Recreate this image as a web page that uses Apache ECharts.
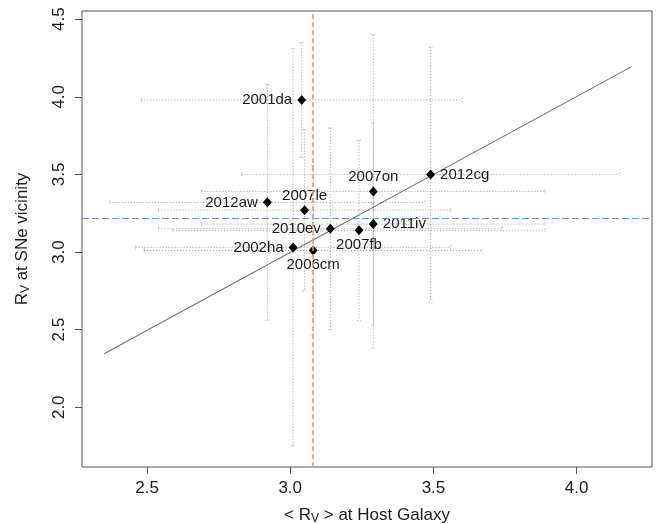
<!DOCTYPE html>
<html>
<head>
<meta charset="utf-8">
<script src="https://cdn.jsdelivr.net/npm/echarts@6/dist/echarts.min.js"></script>
<style>
  html, body { margin: 0; padding: 0; background: #fff; }
  #chart { width: 664px; height: 524px; }
</style>
</head>
<body>
<div id="chart"></div>
<script>
// Supernovae: R_V at the SN site vs mean R_V of the host galaxy
const names   = ['2001da', '2012cg', '2007on', '2012aw', '2007le', '2011iv', '2010ev', '2007fb', '2002ha', '2006cm'];
const hostRv  = [3.04, 3.49, 3.29, 2.92, 3.05, 3.29, 3.14, 3.24, 3.01, 3.08];
const snRv    = [3.98, 3.50, 3.39, 3.32, 3.27, 3.18, 3.15, 3.14, 3.03, 3.01];
const hostErr = [0.56, 0.66, 0.60, 0.55, 0.51, 0.60, 0.60, 0.65, 0.55, 0.59];
const snErr   = [0.37, 0.82, 1.01, 0.76, 0.52, 0.65, 0.65, 0.58, 1.28, 0.55];
const labelSide = ['left', 'right', 'top', 'left', 'top', 'right', 'left', 'bottom', 'left', 'bottom'];

// fitted relation, drawn between its two end points
const fitX = [2.35, 4.19];
const fitY = [2.345, 4.193];

// reference levels
const hostMean = 3.08;
const snMean = 3.22;

const xTicks = [2.5, 3.0, 3.5, 4.0];
const yTicks = [2.0, 2.5, 3.0, 3.5, 4.0, 4.5];

const FONT = 'Liberation Sans, Arial, sans-serif';
const INK = '#1a1a1a';
const FRAME = '#555';

const chart = echarts.init(document.getElementById('chart'), null, { renderer: 'canvas' });

const errData = hostRv.map((x, i) => [x, snRv[i], hostErr[i], snErr[i]]);

function renderErr(params, api) {
  const x = api.value(0), y = api.value(1), ex = api.value(2), ey = api.value(3);
  const l = api.coord([x - ex, y]), r = api.coord([x + ex, y]);
  const t = api.coord([x, y + ey]), b = api.coord([x, y - ey]);
  const cap = 1.8;
  const style = { stroke: '#9a9a9a', lineWidth: 1, lineDash: [1, 2], fill: null };
  const seg = (x1, y1, x2, y2) => ({ type: 'line', shape: { x1, y1, x2, y2 }, style });
  return {
    type: 'group',
    children: [
      seg(l[0], l[1], r[0], r[1]),
      seg(l[0], l[1] - cap, l[0], l[1] + cap),
      seg(r[0], r[1] - cap, r[0], r[1] + cap),
      seg(t[0], t[1], b[0], b[1]),
      seg(t[0] - cap, t[1], t[0] + cap, t[1]),
      seg(b[0] - cap, b[1], b[0] + cap, b[1])
    ]
  };
}

const option = {
  animation: false,
  backgroundColor: '#fff',
  textStyle: { fontFamily: FONT },
  grid: {
    left: 82, right: 12, top: 11, bottom: 57,
    show: true, borderColor: FRAME, borderWidth: 1, backgroundColor: 'transparent'
  },
  xAxis: {
    type: 'value', min: 2.273, max: 4.263,
    axisLine: { show: false },
    splitLine: { show: false },
    axisTick: { show: true, customValues: xTicks, length: 7, lineStyle: { color: FRAME } },
    axisLabel: {
      customValues: xTicks, formatter: v => v.toFixed(1),
      fontSize: 17, color: INK, fontFamily: FONT, margin: 13
    }
  },
  yAxis: {
    type: 'value', min: 1.615, max: 4.553,
    axisLine: { show: false },
    splitLine: { show: false },
    axisTick: { show: true, customValues: yTicks, length: 7, lineStyle: { color: FRAME } },
    axisLabel: {
      customValues: yTicks, formatter: v => v.toFixed(1), rotate: 90,
      fontSize: 17, color: INK, fontFamily: FONT, margin: 14
    }
  },
  graphic: [
    {
      type: 'text', x: 367, y: 515, silent: true,
      style: {
        text: '< R{s|V} > at Host Galaxy',
        font: '17px ' + FONT, fill: INK, align: 'center', verticalAlign: 'middle',
        lineHeight: 20,
        rich: { s: { fontSize: 12, fontFamily: FONT, fill: INK, verticalAlign: 'bottom', lineHeight: 12 } }
      }
    },
    {
      type: 'text', x: 22, y: 239, rotation: Math.PI / 2, silent: true,
      style: {
        text: 'R{s|V} at SNe vicinity',
        font: '17px ' + FONT, fill: INK, align: 'center', verticalAlign: 'middle',
        lineHeight: 20,
        rich: { s: { fontSize: 12, fontFamily: FONT, fill: INK, verticalAlign: 'bottom', lineHeight: 12 } }
      }
    }
  ],
  series: [
    {
      type: 'custom', renderItem: renderErr, data: errData, z: 1, silent: true,
      encode: { x: 0, y: 1 }
    },
    {
      type: 'line', data: [[fitX[0], fitY[0]], [fitX[1], fitY[1]]],
      showSymbol: false, z: 2, silent: true,
      lineStyle: { color: '#707070', width: 1.1 }
    },
    {
      type: 'scatter', z: 3, symbol: 'diamond', symbolSize: [9, 10],
      itemStyle: { color: '#000', opacity: 1 },
      data: hostRv.map((x, i) => ({
        value: [x, snRv[i]], name: names[i],
        label: { position: labelSide[i], distance: labelSide[i] === 'top' || labelSide[i] === 'bottom' ? 2 : 5 }
      })),
      label: { show: true, formatter: '{b}', fontSize: 15, color: INK, fontFamily: FONT }
    },
    {
      type: 'line', data: [], z: 4, silent: true,
      markLine: {
        silent: true, symbol: 'none', label: { show: false }, animation: false,
        data: [
          { yAxis: snMean, lineStyle: { color: '#4f9be8', width: 1.2, type: [7, 3] } },
          { xAxis: hostMean, lineStyle: { color: '#f08a8a', width: 1.6, type: [5, 3] } }
        ]
      }
    }
  ]
};

chart.setOption(option);
</script>
</body>
</html>
